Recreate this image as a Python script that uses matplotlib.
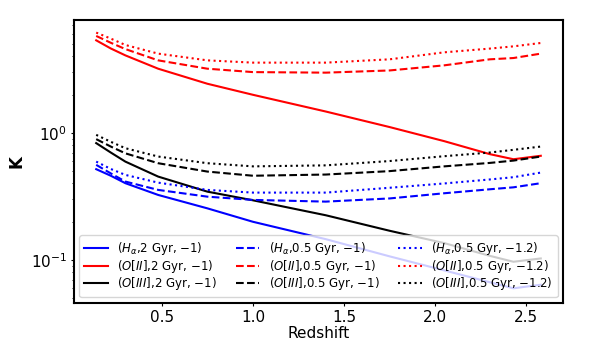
import numpy as np
import matplotlib
matplotlib.use('Agg')
import matplotlib.pyplot as plt

# redshift grid
z = [0.14, 0.22, 0.30, 0.48, 0.75, 1.00, 1.40, 1.75, 2.05, 2.30, 2.43, 2.58]

# K values
ha_2gyr = [0.518, 0.46, 0.402, 0.325, 0.255, 0.200, 0.146, 0.107, 0.083, 0.067, 0.060, 0.064]
o2_2gyr = [5.33, 4.6, 4.06, 3.19, 2.43, 1.99, 1.47, 1.11, 0.86, 0.68, 0.62, 0.66]
o3_2gyr = [0.83, 0.70, 0.594, 0.453, 0.345, 0.295, 0.225, 0.17, 0.136, 0.108, 0.097, 0.103]

ha_05 = [0.56, 0.48, 0.414, 0.356, 0.315, 0.297, 0.288, 0.305, 0.335, 0.36, 0.373, 0.402]
o2_05 = [5.77, 5.1, 4.55, 3.71, 3.19, 3.0, 2.97, 3.09, 3.39, 3.78, 3.87, 4.19]
o3_05 = [0.892, 0.78, 0.69, 0.577, 0.496, 0.46, 0.47, 0.50, 0.545, 0.58, 0.605, 0.651]

ha_05_12 = [0.594, 0.52, 0.467, 0.406, 0.356, 0.339, 0.339, 0.37, 0.40, 0.43, 0.448, 0.487]
o2_05_12 = [6.13, 5.5, 4.9, 4.19, 3.71, 3.56, 3.56, 3.78, 4.29, 4.59, 4.78, 5.08]
o3_05_12 = [0.964, 0.85, 0.757, 0.651, 0.577, 0.545, 0.555, 0.60, 0.655, 0.70, 0.735, 0.78]

fig = plt.figure(figsize=(5.98, 3.49), dpi=100)
ax = fig.add_axes([0.1237, 0.1318, 0.8178, 0.8109])

lw = 1.5
ax.plot(z, ha_2gyr, color='blue', ls='-', lw=lw, label=r'$(H_{\alpha}$,2 Gyr, $-1)$')
ax.plot(z, o2_2gyr, color='red', ls='-', lw=lw, label=r'$(O[II]$,2 Gyr, $-1)$')
ax.plot(z, o3_2gyr, color='black', ls='-', lw=lw, label=r'$(O[III]$,2 Gyr, $-1)$')
ax.plot(z, ha_05, color='blue', ls='--', lw=lw, label=r'$(H_{\alpha}$,0.5 Gyr, $-1)$')
ax.plot(z, o2_05, color='red', ls='--', lw=lw, label=r'$(O[II]$,0.5 Gyr, $-1)$')
ax.plot(z, o3_05, color='black', ls='--', lw=lw, label=r'$(O[III]$,0.5 Gyr, $-1)$')
ax.plot(z, ha_05_12, color='blue', ls=':', lw=lw, label=r'$(H_{\alpha}$,0.5 Gyr, $-1.2)$')
ax.plot(z, o2_05_12, color='red', ls=':', lw=lw, label=r'$(O[II]$,0.5 Gyr, $-1.2)$')
ax.plot(z, o3_05_12, color='black', ls=':', lw=lw, label=r'$(O[III]$,0.5 Gyr, $-1.2)$')

ax.set_yscale('log')
ax.set_ylim(0.046, 7.7)
ax.set_xticks([0.5, 1.0, 1.5, 2.0, 2.5])
ax.tick_params(labelsize=11, length=2.5, pad=2.5)
ax.tick_params(which='minor', length=1.5)
for s in ax.spines.values():
    s.set_linewidth(1.5)

ax.set_xlabel('Redshift', fontsize=11, labelpad=0.5)
ax.set_ylabel('K', fontsize=12, fontweight='bold')

ax.legend(loc='lower center', ncol=3, fontsize=8.5, labelspacing=0.05,
          columnspacing=1.6)

plt.savefig('out.png', dpi=100)
